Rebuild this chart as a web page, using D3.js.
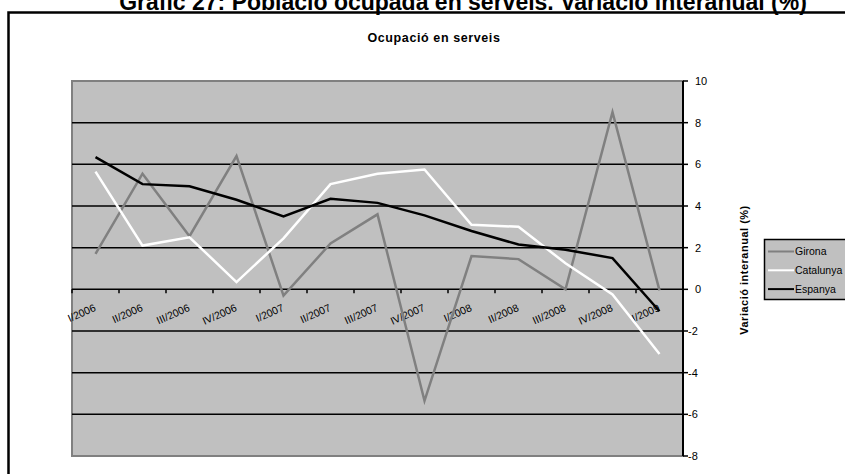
<!DOCTYPE html>
<meta charset="utf-8">
<style>
    body { margin: 0; background: #fff; }
    svg { display: block; font-family: "Liberation Sans", Arial, sans-serif; }
    .grid line { stroke: #000; stroke-width: 1.5px; }
    .tick-label { font-size: 11px; fill: #000; }
    .cat-label { font-size: 10.5px; fill: #000; }
    .legend text { font-size: 10.5px; }
</style>
<svg id="svg" width="845" height="474"></svg>
<script src="https://d3js.org/d3.v7.min.js"></script>
<script>

// quarters
var categories = ["I/2006", "II/2006", "III/2006", "IV/2006", "I/2007", "II/2007", "III/2007",
    "IV/2007", "I/2008", "II/2008", "III/2008", "IV/2008", "I/2009"];

// variació interanual (%)
var girona    = [1.7, 5.55, 2.55, 6.4, -0.3, 2.2, 3.6, -5.35, 1.6, 1.45, 0.0, 8.5, -0.05];
var catalunya = [5.65, 2.1, 2.5, 0.35, 2.45, 5.05, 5.55, 5.75, 3.1, 3.0, 1.25, -0.25, -3.1];
var espanya   = [6.35, 5.05, 4.95, 4.3, 3.5, 4.35, 4.15, 3.55, 2.8, 2.15, 1.9, 1.5, -1.05];

var yTicks = [10, 8, 6, 4, 2, 0, -2, -4, -6, -8];

var series = [
    {name: "Girona", values: girona, color: "#808080"},
    {name: "Catalunya", values: catalunya, color: "#ffffff"},
    {name: "Espanya", values: espanya, color: "#000000"}
];

var svg = d3.select("#svg");

// note: "top" is taken by window.top, so the plot edges get their own names
var plotLeft = 72, plotRight = 683, plotTop = 81, plotBottom = 456;

var x = d3.scaleBand()
    .domain(categories)
    .range([plotLeft, plotRight])
    .padding(0);

var y = d3.scaleLinear()
    .domain([-8, 10])
    .range([plotBottom, plotTop]);

// page title, cut by the top edge
svg.append("text")
    .attr("x", 463)
    .attr("y", 9.5)
    .attr("text-anchor", "middle")
    .style("font-size", "23px")
    .style("font-weight", "bold")
    .text("Gràfic 27: Població ocupada en serveis. Variació interanual (%)");

// outer frame (continues past the right and bottom edges)
svg.append("rect")
    .attr("x", 8.5)
    .attr("y", 12.5)
    .attr("width", 900)
    .attr("height", 500)
    .attr("fill", "none")
    .attr("stroke", "#000")
    .attr("stroke-width", 2.5);

svg.append("text")
    .attr("x", 434)
    .attr("y", 42)
    .attr("text-anchor", "middle")
    .style("font-size", "12.5px")
    .style("font-weight", "bold")
    .style("letter-spacing", "0.6px")
    .text("Ocupació en serveis");

// plot area
svg.append("rect")
    .attr("x", plotLeft)
    .attr("y", plotTop)
    .attr("width", plotRight - plotLeft)
    .attr("height", plotBottom - plotTop)
    .attr("fill", "#c0c0c0")
    .attr("stroke", "#808080")
    .attr("stroke-width", 2);

svg.append("g")
    .attr("class", "grid")
    .selectAll("line")
    .data(yTicks.filter(function(d) { return d < 10 && d > -8; }))
    .enter().append("line")
    .attr("x1", plotLeft)
    .attr("x2", plotRight)
    .attr("y1", function(d) { return y(d); })
    .attr("y2", function(d) { return y(d); });

// category ticks on the zero line
var bounds = categories.map(function(c) { return x(c); }).concat([plotRight]);
svg.append("g")
    .selectAll("line")
    .data(bounds)
    .enter().append("line")
    .attr("x1", function(d) { return d; })
    .attr("x2", function(d) { return d; })
    .attr("y1", y(0))
    .attr("y2", y(0) + 4)
    .attr("stroke", "#000")
    .attr("stroke-width", 1.5);

// category labels (drawn under the lines)
svg.append("g")
    .selectAll("text")
    .data(categories)
    .enter().append("text")
    .attr("class", "cat-label")
    .attr("text-anchor", "end")
    .attr("transform", function(d) {
        return "translate(" + (x(d) + x.bandwidth() / 2 + 1) + "," + (y(0) + 21) + ") rotate(-24)";
    })
    .text(function(d) { return d; });

// right value axis
var axis = svg.append("g").attr("transform", "translate(" + plotRight + ",0)");
axis.append("line")
    .attr("y1", plotTop).attr("y2", plotBottom)
    .attr("stroke", "#000").attr("stroke-width", 2);
axis.selectAll(".t")
    .data(yTicks)
    .enter().append("line")
    .attr("x1", 0).attr("x2", 5)
    .attr("y1", function(d) { return y(d); })
    .attr("y2", function(d) { return y(d); })
    .attr("stroke", "#000").attr("stroke-width", 1.5);
axis.selectAll(".tick-label")
    .data(yTicks)
    .enter().append("text")
    .attr("class", "tick-label")
    .attr("x", function(d) { return d < 0 ? 5 : 12; })
    .attr("y", function(d) { return y(d); })
    .attr("dy", "0.35em")
    .text(function(d) { return d; });

svg.append("text")
    .attr("transform", "translate(748,270) rotate(-90)")
    .attr("text-anchor", "middle")
    .style("font-size", "11px")
    .style("font-weight", "bold")
    .style("letter-spacing", "0.5px")
    .text("Variació interanual (%)");

// lines
var line = d3.line()
    .x(function(d, i) { return x(categories[i]) + x.bandwidth() / 2; })
    .y(function(d) { return y(d); });

svg.append("g")
    .selectAll("path")
    .data(series)
    .enter().append("path")
    .attr("d", function(s) { return line(s.values); })
    .attr("fill", "none")
    .attr("stroke", function(s) { return s.color; })
    .attr("stroke-width", 2.5)
    .attr("stroke-linejoin", "miter");

// legend
var legend = svg.append("g").attr("class", "legend");
legend.append("rect")
    .attr("x", 764.5)
    .attr("y", 239.5)
    .attr("width", 120)
    .attr("height", 60)
    .attr("fill", "#c0c0c0")
    .attr("stroke", "#000")
    .attr("stroke-width", 1.5);

var item = legend.selectAll(".item")
    .data(series)
    .enter().append("g")
    .attr("transform", function(d, i) { return "translate(0," + (251.5 + i * 18.8) + ")"; });
item.append("line")
    .attr("x1", 768).attr("x2", 794)
    .attr("stroke", function(d) { return d.color; })
    .attr("stroke-width", 2);
item.append("text")
    .attr("x", 795)
    .attr("dy", "0.35em")
    .text(function(d) { return d.name; });

</script>
